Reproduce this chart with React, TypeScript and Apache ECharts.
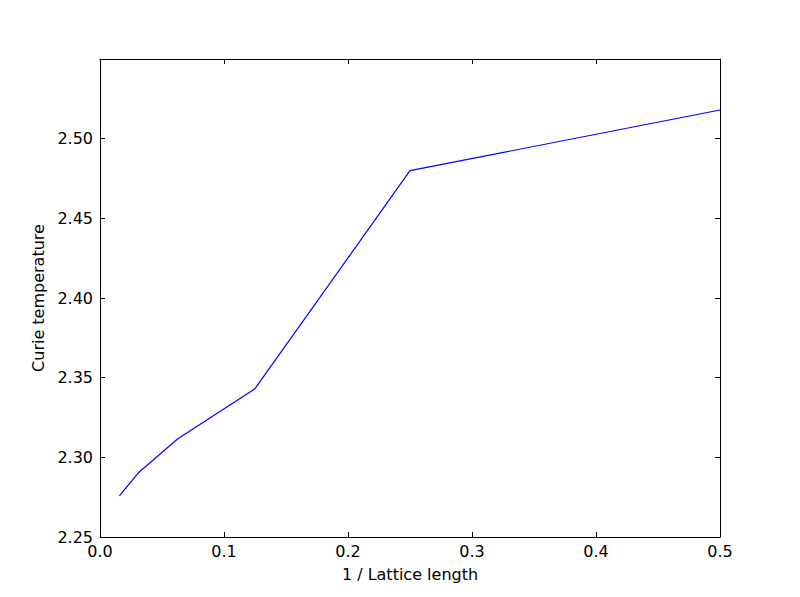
import { useEffect, useRef } from 'react'
import * as echarts from 'echarts'

// 1 / L for L = 64, 32, 16, 8, 4, 2
const inverseLength = [0.015625, 0.03125, 0.0625, 0.125, 0.25, 0.5]
const curieTemp = [2.2758, 2.2905, 2.3115, 2.3431, 2.4799, 2.518]

const X_TICKS = [0, 0.1, 0.2, 0.3, 0.4, 0.5]
const Y_TICKS = [2.25, 2.3, 2.35, 2.4, 2.45, 2.5, 2.55]

const FONT = 'DejaVu Sans'

export default function App() {
  const ref = useRef<HTMLDivElement | null>(null)

  useEffect(() => {
    if (!ref.current) return
    const chart = echarts.init(ref.current, null, { renderer: 'svg' })

    const line = { show: true, onZero: false, lineStyle: { color: '#000', width: 1 } }
    const ticks = { show: true, inside: true, length: 5, lineStyle: { color: '#000', width: 1 } }

    chart.setOption({
      animation: false,
      backgroundColor: '#fff',
      grid: { left: 100, right: 80, top: 59, bottom: 60, containLabel: false },
      xAxis: [
        {
          type: 'value',
          min: X_TICKS[0],
          max: X_TICKS[X_TICKS.length - 1],
          interval: 0.1,
          name: '1 / Lattice length',
          nameLocation: 'middle',
          nameGap: 29,
          nameTextStyle: { color: '#000', fontSize: 16, fontFamily: FONT },
          axisLine: line,
          axisTick: ticks,
          splitLine: { show: false },
          axisLabel: {
            color: '#000',
            fontSize: 16,
            fontFamily: FONT,
            margin: 6,
            formatter: (v: number) => v.toFixed(1),
          },
        },
        {
          type: 'value',
          position: 'top',
          min: X_TICKS[0],
          max: X_TICKS[X_TICKS.length - 1],
          interval: 0.1,
          axisLine: line,
          axisTick: ticks,
          splitLine: { show: false },
          axisLabel: { show: false },
        },
      ],
      yAxis: [
        {
          type: 'value',
          min: Y_TICKS[0],
          max: Y_TICKS[Y_TICKS.length - 1],
          interval: 0.05,
          name: 'Curie temperature',
          nameLocation: 'middle',
          nameGap: 52,
          nameTextStyle: { color: '#000', fontSize: 16, fontFamily: FONT },
          axisLine: line,
          axisTick: ticks,
          splitLine: { show: false },
          axisLabel: {
            color: '#000',
            fontSize: 16,
            fontFamily: FONT,
            margin: 7,
            formatter: (v: number) => (v > 2.545 ? '' : v.toFixed(2)),
          },
        },
        {
          type: 'value',
          position: 'right',
          min: Y_TICKS[0],
          max: Y_TICKS[Y_TICKS.length - 1],
          interval: 0.05,
          axisLine: line,
          axisTick: ticks,
          splitLine: { show: false },
          axisLabel: { show: false },
        },
      ],
      series: [
        {
          type: 'line',
          data: inverseLength.map((x, i) => [x, curieTemp[i]]),
          showSymbol: false,
          lineStyle: { color: '#0000ff', width: 1.2 },
          silent: true,
        },
      ],
    })

    return () => chart.dispose()
  }, [])

  return <div ref={ref} style={{ width: 800, height: 597, margin: -8 }} />
}
